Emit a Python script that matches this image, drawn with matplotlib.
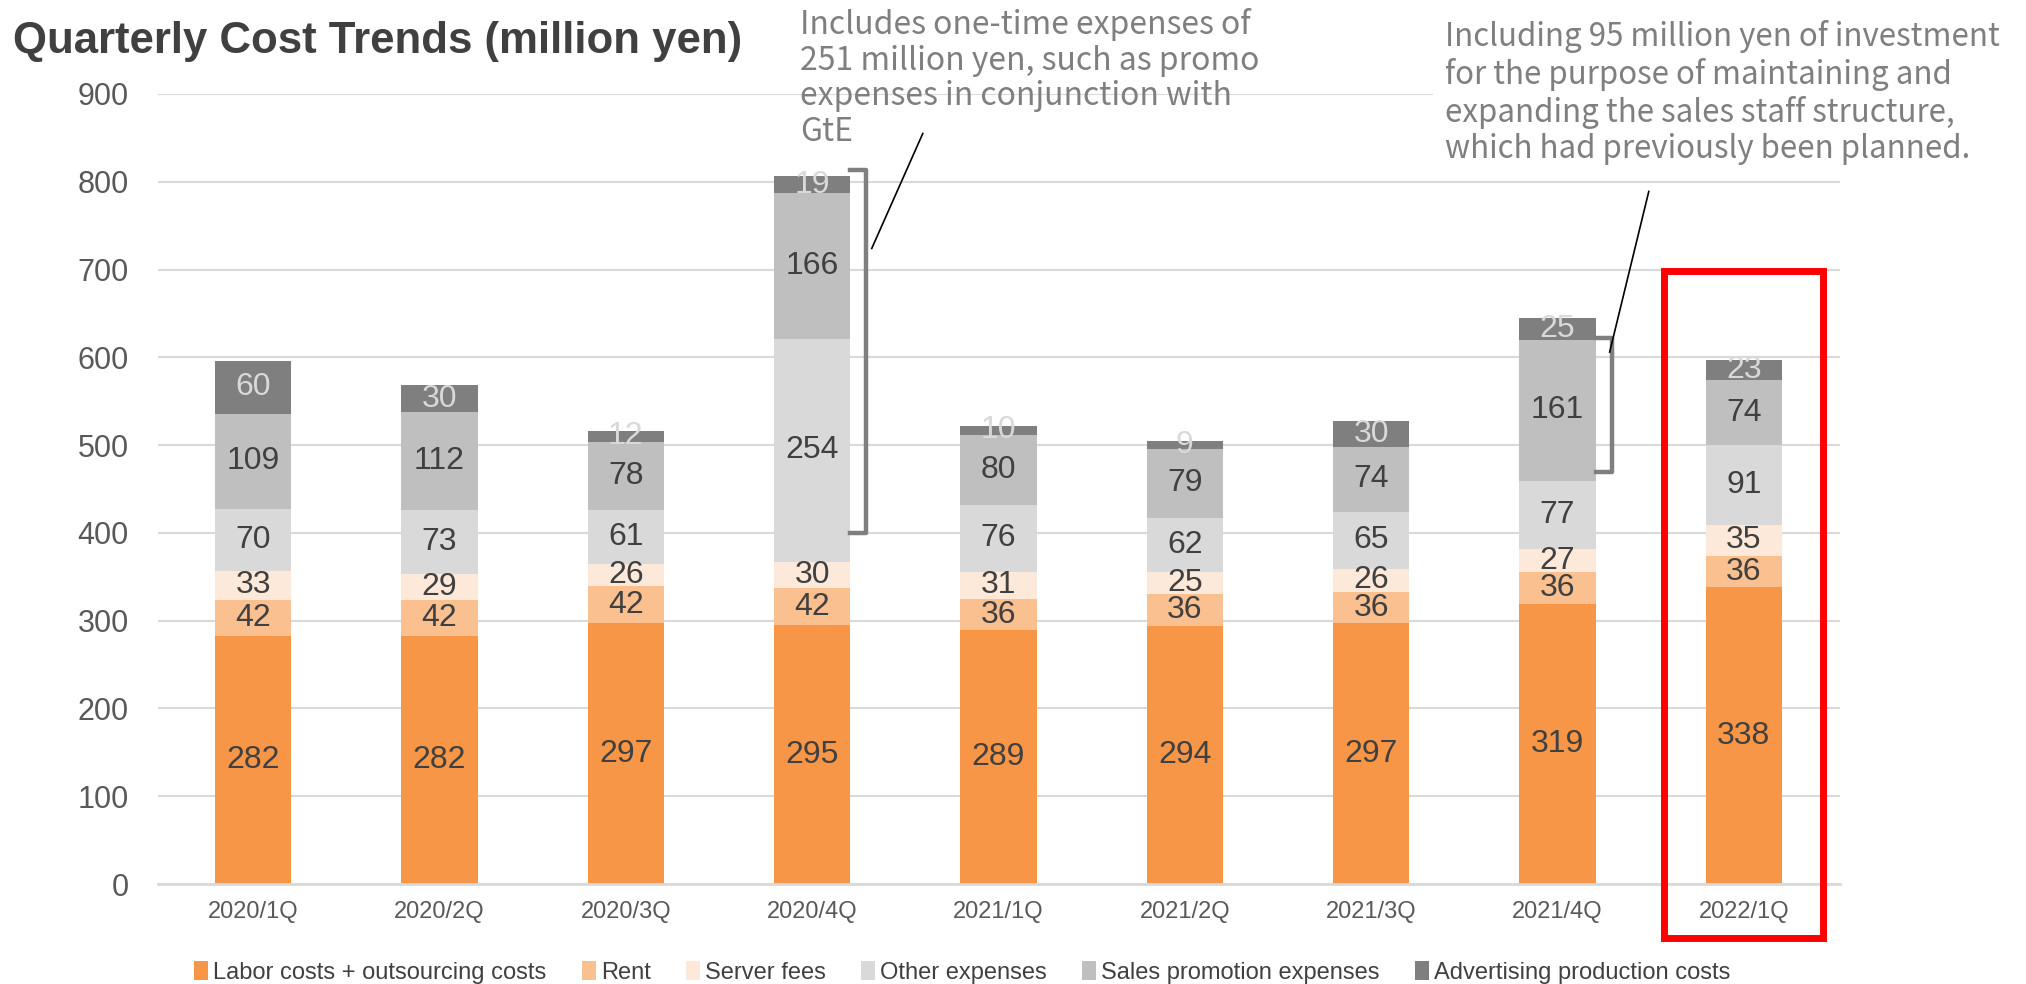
import matplotlib
matplotlib.use('Agg')
import matplotlib.pyplot as plt
from matplotlib.patches import Rectangle
import numpy as np

# Data
quarters = ['2020/1Q', '2020/2Q', '2020/3Q', '2020/4Q', '2021/1Q',
            '2021/2Q', '2021/3Q', '2021/4Q', '2022/1Q']
series_names = ['Labor costs + outsourcing costs', 'Rent', 'Server fees',
                'Other expenses', 'Sales promotion expenses',
                'Advertising production costs']
labor = [282, 282, 297, 295, 289, 294, 297, 319, 338]
rent = [42, 42, 42, 42, 36, 36, 36, 36, 36]
server = [33, 29, 26, 30, 31, 25, 26, 27, 35]
other = [70, 73, 61, 254, 76, 62, 65, 77, 91]
promo = [109, 112, 78, 166, 80, 79, 74, 161, 74]
advert = [60, 30, 12, 19, 10, 9, 30, 25, 23]
yticks = [0, 100, 200, 300, 400, 500, 600, 700, 800, 900]

note_left = ('Includes one-time expenses of\n251 million yen, such as promo\n'
             'expenses in conjunction with\nGtE')
note_right = ('Including 95 million yen of investment\nfor the purpose of maintaining and\n'
              'expanding the sales staff structure,\nwhich had previously been planned.')

colors = ['#F79646', '#FAC090', '#FDE9D9', '#D9D9D9', '#BFBFBF', '#7F7F7F']
label_colors = ['#404040'] * 5 + ['#D9D9D9']

plt.rcParams['font.family'] = ['Liberation Sans', 'DejaVu Sans']

fig = plt.figure(figsize=(20.26, 9.84), dpi=100)
ax = fig.add_axes([0.078, 0.1016, 0.830, 0.8029])

x = np.arange(len(quarters))
width = 0.41
bottom = np.zeros(len(quarters))
for vals, name, col, lcol in zip([labor, rent, server, other, promo, advert],
                                 series_names, colors, label_colors):
    vals = np.array(vals)
    ax.bar(x, vals, width, bottom=bottom, color=col, label=name, zorder=2)
    for xi, b, v in zip(x, bottom, vals):
        ax.text(xi, b + v / 2, str(v), ha='center', va='center',
                fontsize=23, color=lcol, zorder=3)
    bottom += vals

ax.set_xlim(-0.51, 8.514)
ax.set_ylim(0, 900)
ax.set_yticks(yticks)
ax.set_xticks(x)
ax.set_xticklabels(quarters)
ax.tick_params(axis='y', length=0, pad=21, labelsize=22, labelcolor='#595959')
ax.tick_params(axis='x', length=0, pad=12, labelsize=17, labelcolor='#595959')
ax.grid(axis='y', color='#D9D9D9', linewidth=1.5, zorder=0)
ax.set_axisbelow(True)
for s in ['top', 'right', 'left']:
    ax.spines[s].set_visible(False)
ax.spines['bottom'].set_color('#D9D9D9')
ax.spines['bottom'].set_linewidth(2)

# brackets
def bracket(x0, x1, y0, y1):
    ax.plot([x0, x1, x1, x0], [y1, y1, y0, y0], color='#7F7F7F', lw=3.2,
            solid_joinstyle='round', zorder=3, clip_on=False)

bracket(3.205, 3.29, 400, 813)
bracket(7.205, 7.29, 469, 622)
ax.plot([3.32, 3.594], [724, 855], color='black', lw=1.2, clip_on=False, zorder=3)
ax.plot([7.28, 7.49], [606, 789], color='black', lw=1.2, clip_on=False, zorder=3)

# highlight box
ax.add_patch(Rectangle((7.57, -62), 0.855, 760, fill=False, edgecolor='#FF0000',
                       lw=5, clip_on=False, zorder=4))

# title and notes
fig.text(0.0065, 0.958, 'Quarterly Cost Trends (million yen)', fontsize=31.5,
         fontweight='bold', color='#404040', va='center', ha='left')
fig.text(0.395, 0.992, note_left, fontsize=23, color='#7F7F7F', va='top', ha='left',
         family=['Noto Sans CJK JP', 'DejaVu Sans'], linespacing=1.15)
fig.text(0.713, 0.980, note_right, fontsize=22.5, color='#7F7F7F', va='top', ha='left',
         family=['Noto Sans CJK JP', 'DejaVu Sans'], linespacing=1.19,
         bbox=dict(facecolor='white', edgecolor='none', pad=8), zorder=5)

leg = fig.legend(loc='center', bbox_to_anchor=(0.475, 0.012), ncol=6, frameon=False,
                 fontsize=17, handlelength=0.6, handleheight=0.9, handletextpad=0.2,
                 columnspacing=1.5)
for t in leg.get_texts():
    t.set_color('#404040')

fig.savefig('out.png', dpi=100)
